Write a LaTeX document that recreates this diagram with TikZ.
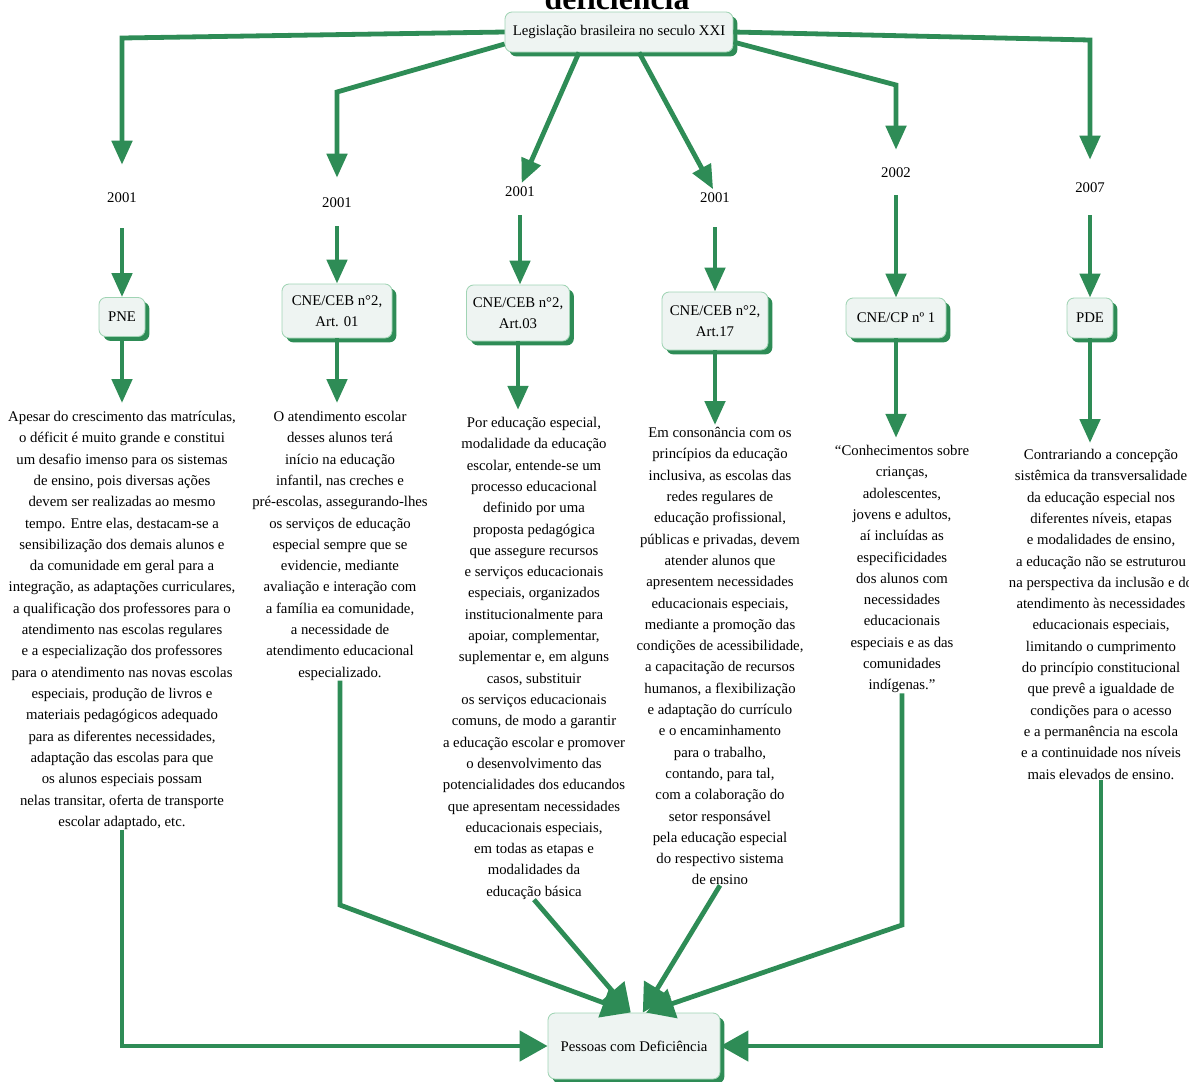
\documentclass[tikz,border=0pt]{standalone}
\usepackage{fontspec}
\setmainfont{Liberation Serif}
\usetikzlibrary{arrows.meta,shadows,calc}

\definecolor{linkgreen}{RGB}{46,140,86}
\definecolor{boxfill}{RGB}{238,244,242}
\definecolor{boxline}{RGB}{160,212,180}
\newcommand{\pxu}{0.025cm}

\begin{document}
\begin{tikzpicture}[x=0.025cm,y=-0.025cm,
  font=\fontsize{10.5}{15.15}\selectfont,
  link/.style={draw=linkgreen, line width=0.12cm, -{Triangle[width=0.5cm,length=0.6cm]}},
  biglink/.style={draw=linkgreen, line width=0.12cm, -{Triangle[width=0.75cm,length=0.7cm]}},
  card/.style={draw=boxline, line width=0.6pt, fill=boxfill, rounded corners=5pt,
    align=center, inner sep=0pt,
    drop shadow={fill=linkgreen, opacity=1, shadow xshift=0.11cm, shadow yshift=-0.11cm}},
  year/.style={inner sep=0pt},
  body/.style={align=center, inner sep=0pt, anchor=north}]

\useasboundingbox (0,0) rectangle (1189,1081);

% heading (runs off the top edge)
\node[font=\bfseries\fontsize{22.6}{26}\selectfont, anchor=base, inner sep=0pt] (title) at (617,9) {deficiência};

% root
\node[card, minimum width=228*\pxu, minimum height=40*\pxu] (top) at (619,32) {Legislação brasileira no seculo XXI};

% years
\node[year] (y1) at (122,198) {2001};
\node[year] (y2) at (337,203) {2001};
\node[year] (y3) at (520,192) {2001};
\node[year] (y4) at (715,198) {2001};
\node[year] (y5) at (896,173) {2002};
\node[year] (y6) at (1090,188) {2007};

% laws
\node[card, minimum width=46*\pxu, minimum height=39*\pxu] (p1) at (122,317) {PNE};
\node[card, minimum width=110*\pxu, minimum height=54*\pxu] (a1) at (337,311) {CNE/CEB n°2,\\ Art. 01};
\node[card, minimum width=103*\pxu, minimum height=56*\pxu] (a3) at (518,313) {CNE/CEB n°2,\\ Art.03};
\node[card, minimum width=106*\pxu, minimum height=58*\pxu] (a4) at (715,321) {CNE/CEB n°2,\\ Art.17};
\node[card, minimum width=100*\pxu, minimum height=40*\pxu] (cp) at (896,318) {CNE/CP nº 1};
\node[card, minimum width=46*\pxu, minimum height=40*\pxu] (pde) at (1090,318) {PDE};

% target
\node[card, minimum width=172*\pxu, minimum height=66*\pxu] (pcd) at (634,1046) {Pessoas com Deficiência};

% descriptions
\node[body] (t1) at (122,411) {Apesar do crescimento das matrículas,\\
o déficit é muito grande e constitui\\
um desafio imenso para os sistemas\\
de ensino, pois diversas ações\\
devem ser realizadas ao mesmo\\
tempo. Entre elas, destacam-se a\\
sensibilização dos demais alunos e\\
da comunidade em geral para a\\
integração, as adaptações curriculares,\\
a qualificação dos professores para o\\
atendimento nas escolas regulares\\
e a especialização dos professores\\
para o atendimento nas novas escolas\\
especiais, produção de livros e\\
materiais pedagógicos adequado\\
para as diferentes necessidades,\\
adaptação das escolas para que\\
os alunos especiais possam\\
nelas transitar, oferta de transporte\\
escolar adaptado, etc.};

\node[body] (t2) at (340,411) {O atendimento escolar\\
desses alunos terá\\
início na educação\\
infantil, nas creches e\\
pré-escolas, assegurando-lhes\\
os serviços de educação\\
especial sempre que se\\
evidencie, mediante\\
avaliação e interação com\\
a família ea comunidade,\\
a necessidade de\\
atendimento educacional\\
especializado.};

\node[body] (t3) at (534,417) {Por educação especial,\\
modalidade da educação\\
escolar, entende-se um\\
processo educacional\\
definido por uma\\
proposta pedagógica\\
que assegure recursos\\
e serviços educacionais\\
especiais, organizados\\
institucionalmente para\\
apoiar, complementar,\\
suplementar e, em alguns\\
casos, substituir\\
os serviços educacionais\\
comuns, de modo a garantir\\
a educação escolar e promover\\
o desenvolvimento das\\
potencialidades dos educandos\\
que apresentam necessidades\\
educacionais especiais,\\
em todas as etapas e\\
modalidades da\\
educação básica};

\node[body] (t4) at (720,427) {Em consonância com os\\
princípios da educação\\
inclusiva, as escolas das\\
redes regulares de\\
educação profissional,\\
públicas e privadas, devem\\
atender alunos que\\
apresentem necessidades\\
educacionais especiais,\\
mediante a promoção das\\
condições de acessibilidade,\\
a capacitação de recursos\\
humanos, a flexibilização\\
e adaptação do currículo\\
e o encaminhamento\\
para o trabalho,\\
contando, para tal,\\
com a colaboração do\\
setor responsável\\
pela educação especial\\
do respectivo sistema\\
de ensino};

\node[body] (t5) at (902,445) {“Conhecimentos sobre\\
crianças,\\
adolescentes,\\
jovens e adultos,\\
aí incluídas as\\
especificidades\\
dos alunos com\\
necessidades\\
educacionais\\
especiais e as das\\
comunidades\\
indígenas.”};

\node[body] (t6) at (1101,449) {Contrariando a concepção\\
sistêmica da transversalidade\\
da educação especial nos\\
diferentes níveis, etapas\\
e modalidades de ensino,\\
a educação não se estruturou\\
na perspectiva da inclusão e do\\
atendimento às necessidades\\
educacionais especiais,\\
limitando o cumprimento\\
do princípio constitucional\\
que prevê a igualdade de\\
condições para o acesso\\
e a permanência na escola\\
e a continuidade nos níveis\\
mais elevados de ensino.};

% root to years
\draw[link, shorten >=0.7cm] (top.west) -- (122,38) -- (y1.north);
\draw[link, shorten >=0.5cm] ([yshift=-0.3cm]top.west) -- (337,92) -- (y2.north);
\draw[link, shorten >=0.1cm] ([xshift=-1cm]top.south) -- (y3.north);
\draw[link, shorten >=0.1cm] ([xshift=0.5cm]top.south) -- (y4.north);
\draw[link, shorten >=0.45cm] ([yshift=-0.25cm]top.east) -- (896,85) -- (y5.north);
\draw[link, shorten >=0.575cm] (top.east) -- (1090,40) -- (y6.north);

% years to laws
\draw[link, shorten <=0.62cm] (y1.south) -- (y1.south |- p1.north);
\draw[link, shorten <=0.45cm] (y2.south) -- (y2.south |- a1.north);
\draw[link, shorten <=0.45cm] (y3.south) -- (y3.south |- a3.north);
\draw[link, shorten <=0.6cm] (y4.south) -- (y4.south |- a4.north);
\draw[link, shorten <=0.42cm] (y5.south) -- (y5.south |- cp.north);
\draw[link, shorten <=0.55cm] (y6.south) -- (y6.south |- pde.north);

% laws to descriptions
\draw[link, shorten >=0.2cm] (p1.south) -- (p1.south |- t1.north);
\draw[link, shorten >=0.2cm] (a1.south) -- (a1.south |- t2.north);
\draw[link, shorten >=0.18cm] (a3.south) -- (a3.south |- t3.north);
\draw[link, shorten >=0.05cm] (a4.south) -- (a4.south |- t4.north);
\draw[link, shorten >=0.18cm] (cp.south) -- (cp.south |- t5.north);
\draw[link, shorten >=0.15cm] (pde.south) -- (pde.south |- t6.north);

% descriptions to target
\draw[biglink] (t1.south) |- (pcd.west);
\draw[biglink] (t2.south) -- (t2.south |- 0,905) -- ([xshift=-0.1cm]pcd.north);
\draw[biglink] (t3.south) -- ([xshift=-0.08cm]pcd.north);
\draw[biglink] (t4.south) -- ([xshift=0.22cm]pcd.north);
\draw[biglink] (t5.south) -- (t5.south |- 0,925) -- ([xshift=0.3cm]pcd.north);
\draw[biglink] (t6.south) |- (pcd.east);

\end{tikzpicture}
\end{document}
